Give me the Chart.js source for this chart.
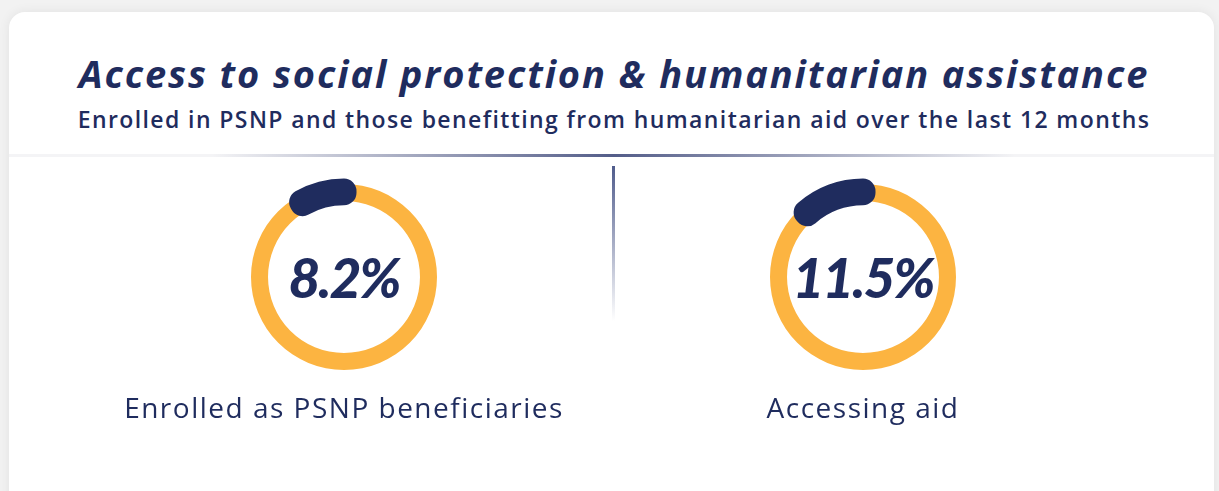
<!DOCTYPE html>
<html>
<head>
<meta charset="utf-8">
<script src="https://cdn.jsdelivr.net/npm/chart.js@4/dist/chart.umd.min.js"></script>
<style>
  html, body { margin: 0; padding: 0; }
  body { width: 1219px; height: 491px; background: #f2f2f2; overflow: hidden; position: relative; font-family: "Open Sans", Lato, sans-serif; color: #1f2c5e; }
  .card { position: absolute; left: 9px; top: 12px; width: 1205px; height: 520px; background: #fff; border-radius: 16px; box-shadow: 0 0 12px rgba(0,0,0,0.07); }
  .txt { position: absolute; width: 1200px; text-align: center; white-space: nowrap; }
  #title { left: 14px; top: 49px; font-size: 38px; font-weight: 700; font-style: italic; line-height: 48px; letter-spacing: 1.9px; }
  #subtitle { left: 14px; top: 103px; font-size: 23px; font-weight: 600; line-height: 32px; letter-spacing: 1.4px; }
  .rule { position: absolute; left: 9px; top: 154px; width: 1205px; height: 3px; background: #f4f4f6; }
  .grad { position: absolute; left: 212px; top: 154px; width: 803px; height: 3px; background: linear-gradient(to right, rgba(75,85,131,0), rgba(75,85,131,0.95) 50%, rgba(75,85,131,0)); }
  .vline { position: absolute; left: 612px; top: 166px; width: 3px; height: 155px; background: linear-gradient(to bottom, #505c8c, rgba(80,92,140,0)); }
  .gauge { position: absolute; width: 240px; height: 240px; }
  .gauge canvas { position: absolute; left: 0; top: 0; }
  .pct { position: absolute; left: 0; top: 0; width: 240px; height: 240px; line-height: 240px; text-align: center; font-family: Lato, sans-serif; font-size: 55px; font-weight: 900; font-style: italic; letter-spacing: -2px; }
  .label { font-size: 28px; font-weight: 500; line-height: 36px; letter-spacing: 1.5px; }
</style>
</head>
<body>
<div class="card"></div>
<div class="txt" id="title">Access to social protection &amp; humanitarian assistance</div>
<div class="txt" id="subtitle">Enrolled in PSNP and those benefitting from humanitarian aid over the last 12 months</div>
<div class="rule"></div>
<div class="grad"></div>
<div class="vline"></div>
<div id="gauges"></div>
<script>
// Datos del gráfico
const categories = ['Enrolled as PSNP beneficiaries', 'Accessing aid'];
const shares = [8.2, 11.5];   // % de hogares
const centersX = [344, 863];  // centro horizontal de cada anillo

const yellow = '#fcb441';
const navy = '#1f2c5e';

const baseOptions = {
    responsive: false,
    maintainAspectRatio: false,
    animation: false,
    events: [],
    layout: { padding: 0 },
    plugins: { legend: { display: false }, tooltip: { enabled: false } }
};

const host = document.getElementById('gauges');

categories.forEach((cat, i) => {
    const box = document.createElement('div');
    box.className = 'gauge';
    box.style.left = (centersX[i] - 120) + 'px';
    box.style.top = (277 - 120) + 'px';
    host.appendChild(box);

    // Anillo amarillo de fondo (radio 93, hueco 76)
    const c1 = document.createElement('canvas');
    c1.width = 240; c1.height = 240;
    box.appendChild(c1);
    new Chart(c1.getContext('2d'), {
        type: 'doughnut',
        data: { labels: [cat], datasets: [{ data: [100], backgroundColor: [yellow], borderWidth: 0 }] },
        options: { ...baseOptions, radius: 93, cutout: '81.7%' }
    });

    // Arco azul fino con borde grueso -> extremos redondeados
    const c2 = document.createElement('canvas');
    c2.width = 240; c2.height = 240;
    box.appendChild(c2);
    new Chart(c2.getContext('2d'), {
        type: 'doughnut',
        data: {
            labels: ['resto', cat],
            datasets: [{
                data: [100 - shares[i], shares[i]],
                backgroundColor: ['rgba(0,0,0,0)', navy],
                borderColor: ['rgba(0,0,0,0)', navy],
                borderWidth: [0, 25],
                borderJoinStyle: 'round'
            }]
        },
        options: { ...baseOptions, radius: 86, cutout: '98%' }
    });

    const pct = document.createElement('div');
    pct.className = 'pct';
    pct.textContent = shares[i] + '%';
    box.appendChild(pct);

    const lab = document.createElement('div');
    lab.className = 'txt label';
    lab.style.left = (centersX[i] - 600) + 'px';
    lab.style.top = '389px';
    lab.textContent = cat;
    host.appendChild(lab);
});
</script>
</body>
</html>
